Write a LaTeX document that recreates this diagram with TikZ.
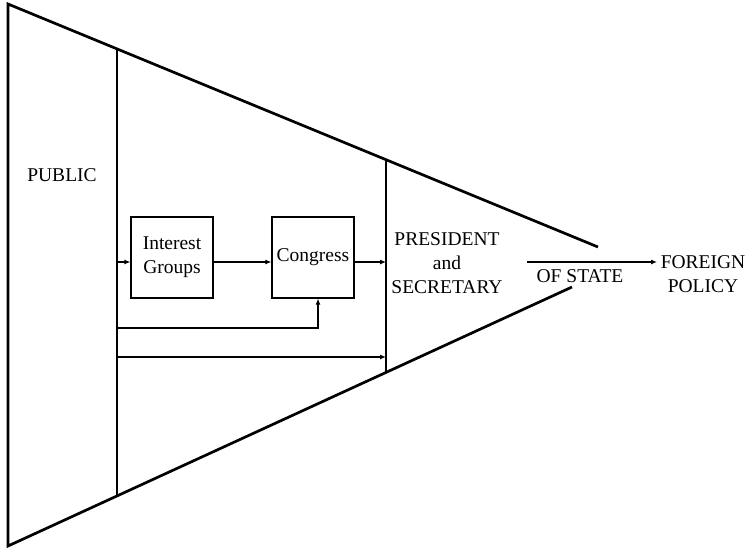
\documentclass[tikz,border=0pt]{standalone}
\usepackage{fontspec}
\setmainfont{Liberation Serif}
\usetikzlibrary{arrows.meta}
\tikzset{
  funnel/.style={line width=2.7pt},
  flow/.style={line width=1.1pt,-{Latex[length=6pt,width=5pt]}},
  actor/.style={draw,line width=1.2pt,minimum width=82pt,minimum height=81pt,align=center,inner sep=0pt},
  lbl/.style={align=center,inner sep=0pt}
}
\begin{document}
\begin{tikzpicture}[x=1pt,y=-1pt,font=\fontsize{19.5}{24}\selectfont]
  \useasboundingbox (0,0) rectangle (754,550);
  % funnel outline
  \coordinate (tl) at (8,4);
  \coordinate (bl) at (8,546);
  \coordinate (tr) at (598,247);
  \coordinate (br) at (572,287);
  \draw[funnel] (tr) -- (tl) -- (bl) -- (br);
  \draw[funnel] (117,49) -- (117,496);
  \draw[funnel] (386,160) -- (386,372);
  % labels and boxes
  \node[lbl] (public) at (62,175) {PUBLIC};
  \node[actor] (groups) at (172,257.5) {Interest\\Groups};
  \node[actor] (congress) at (313,257.5) {Congress};
  \node[lbl] (president) at (447,263) {PRESIDENT\\and\\SECRETARY};
  \node[lbl] (ofstate) at (580,276) {OF STATE};
  \node[lbl] (policy) at (703,274) {FOREIGN\\POLICY};
  % arrow ends
  \coordinate (pubA) at (117,262);
  \coordinate (pubB) at (117,328);
  \coordinate (pubC) at (117,357);
  \coordinate (presA) at (386,262);
  \coordinate (presC) at (386,357);
  \coordinate (stateA) at (527,262);
  \coordinate (stateB) at (657,262);
  \begin{scope}
    \draw[flow] (pubA) -- (pubA -| groups.west);
    \draw[flow] (pubA -| groups.east) -- (pubA -| congress.west);
    \draw[flow] (pubA -| congress.east) -- (presA);
    \draw[flow] (pubB) -| ([xshift=5pt]congress.south);
    \draw[flow] (pubC) -- (presC);
    \draw[flow] (stateA) -- (stateB);
  \end{scope}
\end{tikzpicture}
\end{document}
